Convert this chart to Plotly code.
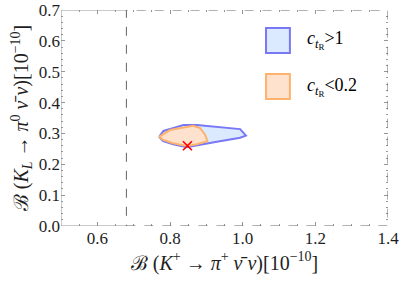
import plotly.graph_objects as go

# Region cT_R > 1 (blue)
blue_x = [0.770, 0.782, 0.810, 0.837, 0.874, 0.929, 0.993, 1.009, 0.993, 0.929, 0.874, 0.846, 0.809, 0.781, 0.770]
blue_y = [0.289, 0.308, 0.318, 0.327, 0.327, 0.322, 0.314, 0.293, 0.286, 0.273, 0.260, 0.255, 0.265, 0.275, 0.289]

# Region cT_R < 0.2 (orange)
orange_x = [0.770, 0.800, 0.864, 0.883, 0.897, 0.903, 0.874, 0.846, 0.809, 0.781, 0.770]
orange_y = [0.289, 0.311, 0.325, 0.317, 0.295, 0.275, 0.265, 0.259, 0.268, 0.279, 0.289]

# SM point
sm_x = [0.848]
sm_y = [0.260]

# Experimental bound (dashed box)
bound_x = [0.68, 1.4]
bound_y = [0.0, 0.7]

x_range = [0.5, 1.4]
y_range = [0.0, 0.7]
x_ticks = [0.6, 0.8, 1.0, 1.2, 1.4]
y_ticks = [0.0, 0.1, 0.2, 0.3, 0.4, 0.5, 0.6, 0.7]

FONT = "'Liberation Serif', 'Times New Roman', serif"
FRAME = "rgb(150,150,150)"

fig = go.Figure()
fig.add_trace(go.Scatter(x=blue_x, y=blue_y, mode="lines", fill="toself",
                         fillcolor="rgba(220,234,255,1)",
                         line=dict(color="rgb(120,120,245)", width=2), hoverinfo="skip"))
fig.add_trace(go.Scatter(x=orange_x, y=orange_y, mode="lines", fill="toself",
                         fillcolor="rgba(255,226,206,1)",
                         line=dict(color="rgb(255,178,110)", width=2), hoverinfo="skip"))
fig.add_trace(go.Scatter(x=sm_x, y=sm_y, mode="markers",
                         marker=dict(symbol="x-thin", size=9, line=dict(color="red", width=1.6))))

# solid frame parts (left side and left portions of top/bottom)
fig.add_shape(type="line", xref="x", yref="y", x0=x_range[0], x1=x_range[0], y0=y_range[0], y1=y_range[1],
              line=dict(color=FRAME, width=1), layer="above")
fig.add_shape(type="line", xref="x", yref="y", x0=x_range[0], x1=bound_x[0], y0=y_range[0], y1=y_range[0],
              line=dict(color=FRAME, width=1), layer="above")
fig.add_shape(type="line", xref="x", yref="y", x0=x_range[0], x1=bound_x[0], y0=y_range[1], y1=y_range[1],
              line=dict(color=FRAME, width=1), layer="above")
# dashed bound box
fig.add_shape(type="rect", xref="x", yref="y", x0=bound_x[0], x1=bound_x[1],
              y0=bound_y[0], y1=bound_y[1],
              line=dict(color="rgb(100,100,100)", width=1, dash="dash"), layer="above")

# legend (manual)
fig.add_shape(type="rect", xref="paper", yref="paper", x0=0.627, x1=0.700, y0=0.801, y1=0.917,
              fillcolor="rgb(220,234,255)", line=dict(color="rgb(120,120,245)", width=2))
fig.add_shape(type="rect", xref="paper", yref="paper", x0=0.627, x1=0.700, y0=0.588, y1=0.704,
              fillcolor="rgb(255,226,206)", line=dict(color="rgb(255,178,110)", width=2))
fig.add_annotation(xref="paper", yref="paper", x=0.745, y=0.861, xanchor="left", yanchor="middle",
                   text="<i>c</i><sub><i>t</i><sub>R</sub></sub>&gt;1", showarrow=False,
                   font=dict(family=FONT, size=18, color="black"))
fig.add_annotation(xref="paper", yref="paper", x=0.745, y=0.644, xanchor="left", yanchor="middle",
                   text="<i>c</i><sub><i>t</i><sub>R</sub></sub>&lt;0.2", showarrow=False,
                   font=dict(family=FONT, size=18, color="black"))

axis_common = dict(showgrid=False, zeroline=False, showline=False, automargin=False,
                   mirror="allticks", ticks="inside", ticklen=4, tickcolor=FRAME,
                   ticklabeloverflow="allow",
                   tickfont=dict(family=FONT, size=17, color="rgb(30,30,30)"))

fig.update_xaxes(range=x_range, tickvals=x_ticks, ticktext=[f"{v:.1f}" for v in x_ticks],
                 minor=dict(dtick=0.05, ticks="inside", ticklen=2, tickcolor=FRAME),
                 title=dict(text="ℬ (<i>K</i><sup>+</sup> → <i>π</i><sup>+</sup> <i>ν̄</i>&nbsp;<i>ν</i>)[10<sup>−10</sup>]",
                            font=dict(family=FONT, size=20, color="rgb(30,30,30)"), standoff=8),
                 **axis_common)
fig.update_yaxes(range=y_range, tickvals=y_ticks, ticktext=[f"{v:.1f}" for v in y_ticks],
                 minor=dict(dtick=0.02, ticks="inside", ticklen=2, tickcolor=FRAME),
                 title=dict(text="ℬ (<i>K</i><sub><i>L</i></sub> → <i>π</i><sup>0</sup> <i>ν̄</i>&nbsp;<i>ν</i>)[10<sup>−10</sup>]",
                            font=dict(family=FONT, size=20, color="rgb(30,30,30)"), standoff=4),
                 **axis_common)

fig.update_layout(width=399, height=282, margin=dict(l=61, r=11, t=10, b=56),
                  font=dict(family=FONT),
                  plot_bgcolor="white", paper_bgcolor="white", showlegend=False)

fig.write_html("out.html", config={"displayModeBar": False, "staticPlot": True},
               post_script="document.body.style.margin='0px';document.body.style.overflow='hidden';")
